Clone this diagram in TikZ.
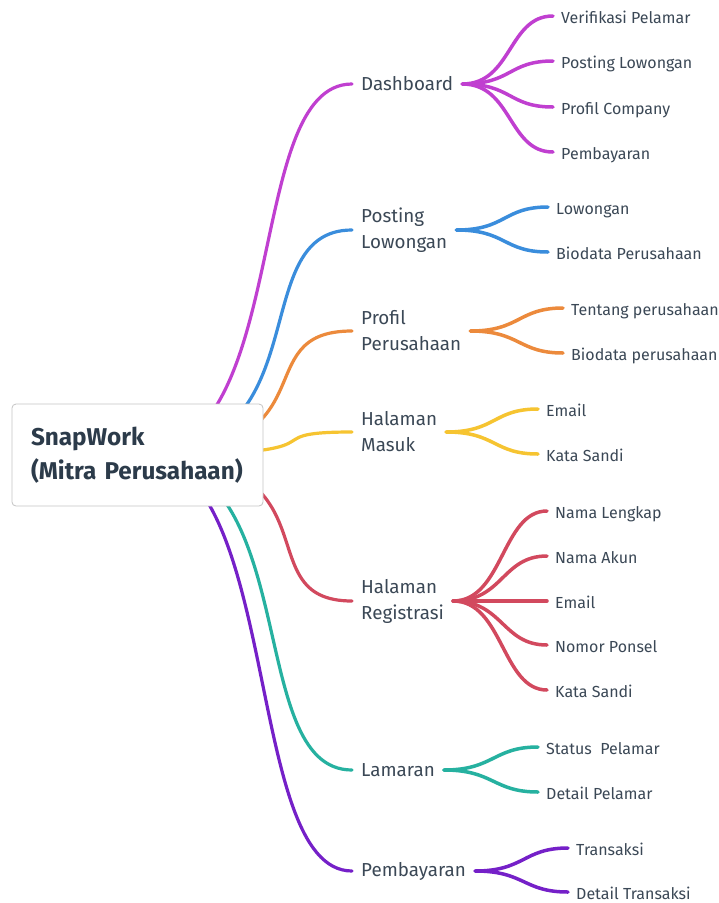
\documentclass[tikz,border=0pt]{standalone}
\usepackage{fontspec}
\setmainfont{Fira Sans}
\usetikzlibrary{backgrounds}

\definecolor{txt}{HTML}{3B4856}
\definecolor{roottxt}{HTML}{2C3B4A}
\definecolor{boxgray}{HTML}{C4C4C4}
\definecolor{cdash}{HTML}{C03FD0}
\definecolor{cpost}{HTML}{3A8DDC}
\definecolor{cprof}{HTML}{EC8A3C}
\definecolor{cmasuk}{HTML}{F6C431}
\definecolor{creg}{HTML}{D2495E}
\definecolor{clam}{HTML}{26B1A0}
\definecolor{cbayar}{HTML}{7520C8}

\begin{document}
\begin{tikzpicture}[x=1pt,y=-1pt,
  topic/.style={anchor=west,inner xsep=9pt,inner ysep=0pt,align=left,text=txt,
                font=\fontsize{18.8}{26}\selectfont},
  leaf/.style={anchor=west,inner xsep=8pt,inner ysep=0pt,text height=14.5pt,text depth=0pt,
               text=txt,font=\fontsize{16}{18}\selectfont},
  branch/.style={line width=3.2pt,line cap=round},
  twig/.style={line width=3.5pt,line cap=round}]
  \useasboundingbox (0,0) rectangle (719,903);
  \begin{scope}[on background layer]
    \fill[white] (0,0) rectangle (719,903);
  \end{scope}

  % centre topic
  \node[draw=boxgray,fill=white,rounded corners=4pt,line width=0.8pt,
        minimum width=251pt,minimum height=102pt,text width=213pt,inner xsep=19pt,
        align=left,text=roottxt,font=\bfseries\fontsize{24.3}{34}\selectfont]
        (root) at (137.5,455) {SnapWork\\(Mitra Perusahaan)};

  % main topics (\a = pull of the curve out of the centre)
  \foreach \name/\y/\a/\label/\col in {dash/84/156/Dashboard/cdash,
      post/230/187/{Posting\\Lowongan}/cpost, prof/331/201/{Profil\\Perusahaan}/cprof,
      masuk/432/226/{Halaman\\Masuk}/cmasuk, reg/601/208/{Halaman\\Registrasi}/creg,
      lam/770/169/Lamaran/clam, bayar/871/146/Pembayaran/cbayar} {
    \node[topic] (\name) at (352,\y) {\label};
    \begin{scope}[on background layer]
      \draw[branch,\col] (root.center) .. controls +(\a,0) and +(-110,0) .. (\name.west);
    \end{scope}
  }

  % subtopics
  \foreach \grp/\x/\col/\list in {
      dash/553/cdash/{16/Verifikasi Pelamar,61/Posting Lowongan,107/Profil Company,152/Pembayaran},
      post/548/cpost/{207/Lowongan,252/Biodata Perusahaan},
      prof/563/cprof/{308/Tentang perusahaan,353/Biodata perusahaan},
      masuk/538/cmasuk/{409/Email,454/Kata Sandi},
      reg/547/creg/{511/Nama Lengkap,556/Nama Akun,601/Email,645/Nomor Ponsel,690/Kata Sandi},
      lam/538/clam/{747/Status\ \ Pelamar,792/Detail Pelamar},
      bayar/568/cbayar/{848/Transaksi,892/Detail Transaksi}} {
    \foreach \y/\label [count=\i] in \list {
      \node[leaf] (\grp-\i) at (\x,\y) {\label};
      \begin{scope}[on background layer]
        \draw[twig,\col] (\grp.east) .. controls +(50,0) and +(-45,0) .. (\grp-\i.west);
      \end{scope}
    }
  }
\end{tikzpicture}
\end{document}
